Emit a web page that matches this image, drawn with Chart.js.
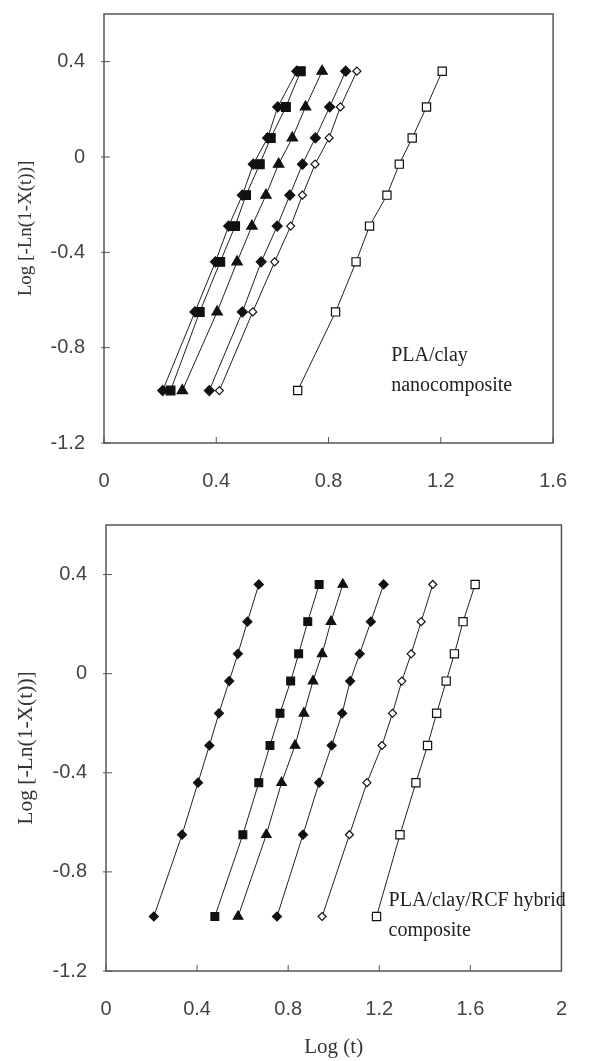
<!DOCTYPE html>
<html>
<head>
<meta charset="utf-8">
<script src="https://cdn.jsdelivr.net/npm/chart.js@4.4.1/dist/chart.umd.min.js"></script>
<style>
    body { margin: 0; background: #fff; }
    .box { position: absolute; left: 0; width: 593px; }
</style>
</head>
<body>
<div class="box" style="top:0;height:500px"><canvas id="chartNano" width="593" height="500"></canvas></div>
<div class="box" style="top:500px;height:561px"><canvas id="chartHybrid" width="593" height="561"></canvas></div>
<script>
// Log[-Ln(1-X(t))] levels shared by every curve (bottom to top)
const levels = [-0.98, -0.65, -0.44, -0.29, -0.16, -0.03, 0.08, 0.21, 0.36];

// PLA/clay nanocomposite - Log(t) for each curve
const nanoDiamondA = [0.209, 0.324, 0.397, 0.444, 0.493, 0.532, 0.583, 0.619, 0.687];
const nanoSquare   = [0.237, 0.341, 0.414, 0.467, 0.506, 0.555, 0.594, 0.648, 0.701];
const nanoTriangle = [0.279, 0.403, 0.474, 0.527, 0.577, 0.622, 0.671, 0.718, 0.777];
const nanoDiamondB = [0.375, 0.493, 0.560, 0.617, 0.662, 0.707, 0.753, 0.804, 0.861];
const nanoOpenDiamond = [0.411, 0.530, 0.608, 0.665, 0.707, 0.752, 0.802, 0.842, 0.901];
const nanoOpenSquare  = [0.690, 0.825, 0.898, 0.946, 1.008, 1.052, 1.098, 1.149, 1.205];

// PLA/clay/RCF hybrid composite - Log(t) for each curve
const hybDiamondA = [0.210, 0.334, 0.404, 0.454, 0.496, 0.541, 0.579, 0.621, 0.671];
const hybSquare   = [0.478, 0.601, 0.671, 0.720, 0.764, 0.811, 0.846, 0.886, 0.936];
const hybTriangle = [0.580, 0.704, 0.771, 0.830, 0.869, 0.909, 0.949, 0.988, 1.040];
const hybDiamondB = [0.751, 0.865, 0.936, 0.991, 1.037, 1.072, 1.114, 1.163, 1.219];
const hybOpenDiamond = [0.949, 1.069, 1.146, 1.212, 1.258, 1.299, 1.340, 1.384, 1.435];
const hybOpenSquare  = [1.188, 1.291, 1.361, 1.412, 1.452, 1.494, 1.530, 1.568, 1.621];

const xTicksNano = [0, 0.4, 0.8, 1.2, 1.6];
const xTicksHybrid = [0, 0.4, 0.8, 1.2, 1.6, 2];
const yTicks = [-1.2, -0.8, -0.4, 0, 0.4];

const serif = '"Liberation Serif", "Times New Roman", serif';
const sans = '"Liberation Sans", Arial, sans-serif';

// frame, inward tick marks and the text note
const framePlugin = {
    id: 'frame',
    afterDraw(chart, args, opts) {
        const { ctx, chartArea: a, scales } = chart;
        ctx.save();
        ctx.strokeStyle = '#555';
        ctx.lineWidth = 1.5;
        ctx.strokeRect(a.left, a.top, a.right - a.left, a.bottom - a.top);
        ctx.lineWidth = 1;
        scales.x.ticks.forEach(t => {
            const px = scales.x.getPixelForValue(t.value);
            ctx.beginPath();
            ctx.moveTo(px, a.bottom);
            ctx.lineTo(px, a.bottom - 6);
            ctx.stroke();
        });
        scales.y.ticks.forEach(t => {
            const py = scales.y.getPixelForValue(t.value);
            ctx.beginPath();
            ctx.moveTo(a.left - 3, py);
            ctx.lineTo(a.left + 6, py);
            ctx.stroke();
        });

        ctx.fillStyle = '#222';
        ctx.font = '20px ' + serif;
        ctx.textAlign = 'left';
        ctx.textBaseline = 'alphabetic';
        const x = scales.x.getPixelForValue(opts.noteX);
        let y = scales.y.getPixelForValue(opts.noteY);
        opts.note.forEach(line => {
            ctx.fillText(line, x, y);
            y += 30;
        });
        ctx.restore();
    }
};

function buildSeries(xs, shape, filled, radius) {
    return {
        data: xs.map((x, i) => ({ x: x, y: levels[i] })),
        showLine: true,
        borderColor: '#222',
        borderWidth: 1,
        pointStyle: shape,
        pointRadius: radius,
        pointHoverRadius: radius,
        pointBackgroundColor: filled ? '#111' : '#fff',
        pointBorderColor: '#111',
        pointBorderWidth: 1.2
    };
}

function buildChart(id, datasets, cfg) {
    const ctx = document.getElementById(id).getContext('2d');
    return new Chart(ctx, {
        type: 'scatter',
        data: { datasets: datasets },
        options: {
            responsive: false,
            animation: false,
            devicePixelRatio: 1,
            layout: { padding: { top: cfg.padTop, right: cfg.padRight, bottom: 0, left: 0 } },
            plugins: {
                legend: { display: false },
                tooltip: { enabled: false },
                frame: { note: cfg.note, noteX: cfg.noteX, noteY: cfg.noteY }
            },
            scales: {
                x: {
                    type: 'linear',
                    min: 0,
                    max: cfg.xMax,
                    afterBuildTicks: s => { s.ticks = cfg.xTicks.map(v => ({ value: v })); },
                    afterFit: s => { s.height = cfg.xHeight; },
                    grid: { display: false, drawTicks: false },
                    border: { display: false },
                    ticks: {
                        padding: 26,
                        color: '#444',
                        font: { family: sans, size: 20 },
                        callback: v => String(v)
                    },
                    title: cfg.xTitle ? {
                        display: true,
                        text: 'Log (t)',
                        color: '#333',
                        font: { family: serif, size: 21 },
                        padding: { top: 0, bottom: 1.4 }
                    } : { display: false }
                },
                y: {
                    min: -1.2,
                    max: 0.6,
                    afterBuildTicks: s => { s.ticks = yTicks.map(v => ({ value: v })); },
                    afterFit: s => {
                        s.width = cfg.yWidth;
                        // keep the label padding from pushing the plot down
                        s.paddingTop = 0;
                        s.paddingBottom = 0;
                    },
                    grid: { display: false, drawTicks: false },
                    border: { display: false },
                    ticks: {
                        padding: 19,
                        color: '#444',
                        font: { family: sans, size: 20 },
                        callback: v => String(v)
                    },
                    title: {
                        display: true,
                        text: 'Log [-Ln(1-X(t))]',
                        color: '#333',
                        font: { family: serif, size: cfg.yTitleSize },
                        padding: { top: cfg.yTitlePad, bottom: 0 }
                    }
                }
            }
        },
        plugins: [framePlugin]
    });
}

document.addEventListener('DOMContentLoaded', function () {
    buildChart('chartNano', [
        buildSeries(nanoDiamondA, 'rectRot', true, 5),
        buildSeries(nanoSquare, 'rect', true, 6.2),
        buildSeries(nanoTriangle, 'triangle', true, 6),
        buildSeries(nanoDiamondB, 'rectRot', true, 5),
        buildSeries(nanoOpenDiamond, 'rectRot', false, 4),
        buildSeries(nanoOpenSquare, 'rect', false, 5.8)
    ], {
        padTop: 14, padRight: 15, xMax: 1.6, xTicks: xTicksNano, xHeight: 57,
        yWidth: 104, yTitleSize: 19, yTitlePad: 14.6, xTitle: false,
        note: ['PLA/clay', 'nanocomposite'], noteX: 1.023, noteY: -0.857
    });

    buildChart('chartHybrid', [
        buildSeries(hybDiamondA, 'rectRot', true, 4.5),
        buildSeries(hybSquare, 'rect', true, 5.5),
        buildSeries(hybTriangle, 'triangle', true, 5.5),
        buildSeries(hybDiamondB, 'rectRot', true, 4.5),
        buildSeries(hybOpenDiamond, 'rectRot', false, 4),
        buildSeries(hybOpenSquare, 'rect', false, 5.8)
    ], {
        padTop: 25, padRight: 10, xMax: 2, xTicks: xTicksHybrid, xHeight: 90,
        yWidth: 106, yTitleSize: 21.5, yTitlePad: 13.1, xTitle: true,
        note: ['PLA/clay/RCF hybrid', 'composite'], noteX: 1.241, noteY: -0.937
    });
});
</script>
</body>
</html>
